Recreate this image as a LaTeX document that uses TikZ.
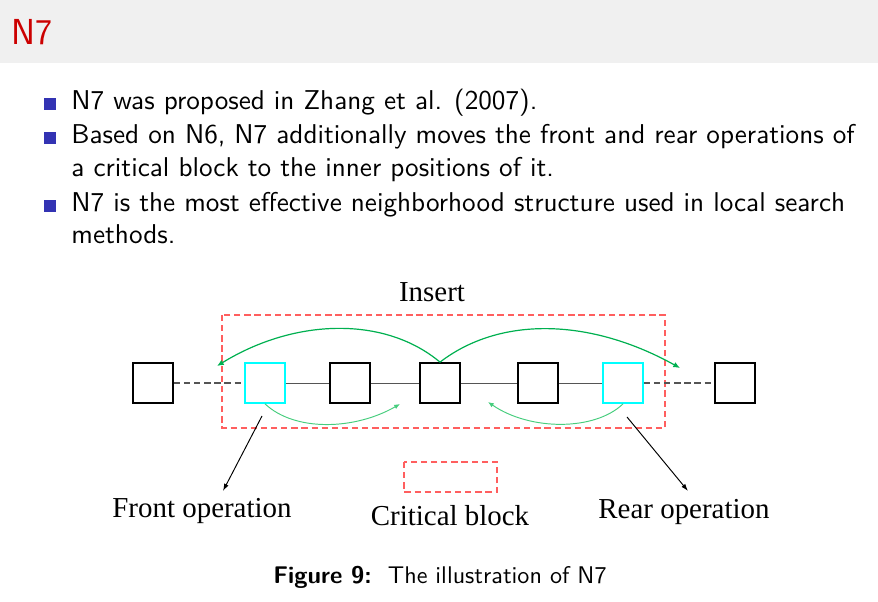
\documentclass[tikz,border=0pt]{standalone}
\usepackage{fontspec}
\newfontfamily\figfont{Liberation Serif}
\newfontfamily\slidefont{lmsans10-regular}[Extension=.otf, BoldFont=lmsans10-bold]
\newfontfamily\titlefont{lmsans17-regular}[Extension=.otf]
\usetikzlibrary{arrows.meta}

\definecolor{hdrgray}{RGB}{240,240,240}
\definecolor{titlered}{RGB}{204,0,0}
\definecolor{bulblue}{RGB}{51,51,179}
\definecolor{zonered}{RGB}{255,95,95}
\definecolor{boxcyan}{RGB}{0,255,255}
\definecolor{movegreen}{RGB}{0,176,80}
\definecolor{movelight}{RGB}{70,205,125}
\definecolor{linkgray}{RGB}{85,85,85}

\tikzset{job_style/.style={draw=black, line width=0.8pt, fill=white, minimum size=5.8mm, inner sep=0pt}}
\tikzset{crit_style/.style={draw=boxcyan, line width=0.8pt, fill=white, minimum size=5.8mm, inner sep=0pt}}
\tikzset{bul_style/.style={fill=bulblue, minimum size=1.75mm, inner sep=0pt}}
\tikzset{txt_style/.style={anchor=base west, inner sep=0pt, font=\slidefont\fontsize{11.28}{13.6}\selectfont}}
\tikzset{lab_style/.style={anchor=base, inner sep=0pt, font=\figfont\fontsize{12}{14}\selectfont}}
\tikzset{zone_style/.style={draw=zonered, line width=0.5pt, dash pattern=on 2.6pt off 1.6pt}}
\tikzset{link_solid/.style={draw=linkgray, line width=0.4pt}}
\tikzset{link_dash/.style={draw=linkgray, line width=0.5pt, dash pattern=on 2.6pt off 1.6pt}}
\tikzset{move_far/.style={draw=movegreen, line width=0.5pt, -{Latex[length=2.8pt,width=2.4pt]}}}
\tikzset{move_near/.style={draw=movelight, line width=0.4pt, -{Latex[length=2.4pt,width=2pt]}}}
\tikzset{point_style/.style={draw=black, line width=0.4pt, -{Latex[length=3pt,width=2pt]}}}

\begin{document}
\begin{tikzpicture}[x=0.14579mm, y=-0.14579mm]
    \useasboundingbox (0,0) rectangle (878,602);
    \fill[hdrgray] (0,0) rectangle (878,63);

    \node[anchor=base west, inner sep=0pt, text=titlered, font=\titlefont\fontsize{15}{18}\selectfont] (title) at (11,45) {N7};

    \node[bul_style] (b1) at (50,104) {};
    \node[bul_style] (b2) at (50,138) {};
    \node[bul_style] (b3) at (50,206) {};
    \node[txt_style] (l1) at (71,110) {N7 was proposed in Zhang et al. (2007).};
    \node[txt_style] (l2) at (71,144) {Based on N6, N7 additionally moves the front and rear operations of};
    \node[txt_style] (l3) at (71,177) {a critical block to the inner positions of it.};
    \node[txt_style] (l4) at (71,212) {N7 is the most effective neighborhood structure used in local search};
    \node[txt_style] (l5) at (71,244) {methods.};

    % critical block frame
    \draw[zone_style] (222,315) rectangle (665,428);
    \node[lab_style] (insert) at (432,302) {Insert};

    \node[job_style] (j1) at (153,383) {};
    \node[crit_style] (j2) at (265,383) {};
    \node[job_style] (j3) at (350,383) {};
    \node[job_style] (j4) at (440,383) {};
    \node[job_style] (j5) at (538,383) {};
    \node[crit_style] (j6) at (623,383) {};
    \node[job_style] (j7) at (735,383) {};

    \draw[link_dash] (j1) -- (j2);
    \draw[link_solid] (j2) -- (j3);
    \draw[link_solid] (j3) -- (j4);
    \draw[link_solid] (j4) -- (j5);
    \draw[link_solid] (j5) -- (j6);
    \draw[link_dash] (j6) -- (j7);

    % insert moves
    \coordinate (ins_l) at (217,366);
    \coordinate (ins_r) at (680,368);
    \coordinate (ins_fl) at (400,404);
    \coordinate (ins_rr) at (488,402);
    \draw[move_far] (j4.north) .. controls (385,316) and (295,318) .. (ins_l);
    \draw[move_far] (j4.north) .. controls (500,316) and (590,318) .. (ins_r);
    \draw[move_near] (j2.south) .. controls (295,432) and (355,430) .. (ins_fl);
    \draw[move_near] (j6.south) .. controls (595,431) and (530,431) .. (ins_rr);

    % labels
    \coordinate (fs) at (262,416);
    \coordinate (fe) at (223,491);
    \coordinate (rs) at (627,417);
    \coordinate (re) at (688,491);
    \draw[point_style] (fs) -- (fe);
    \draw[point_style] (rs) -- (re);
    \node[lab_style] (front) at (202,518) {Front operation};
    \node[lab_style] (rear) at (684,519) {Rear operation};

    \draw[zone_style] (404,462) rectangle (497,492);
    \node[lab_style] (crit) at (450,526) {Critical block};

    \node[anchor=base, inner sep=0pt, font=\slidefont\fontsize{10}{12}\selectfont] (cap) at (440,584) {\textbf{Figure 9:}\ \ The illustration of N7};
\end{tikzpicture}
\end{document}
